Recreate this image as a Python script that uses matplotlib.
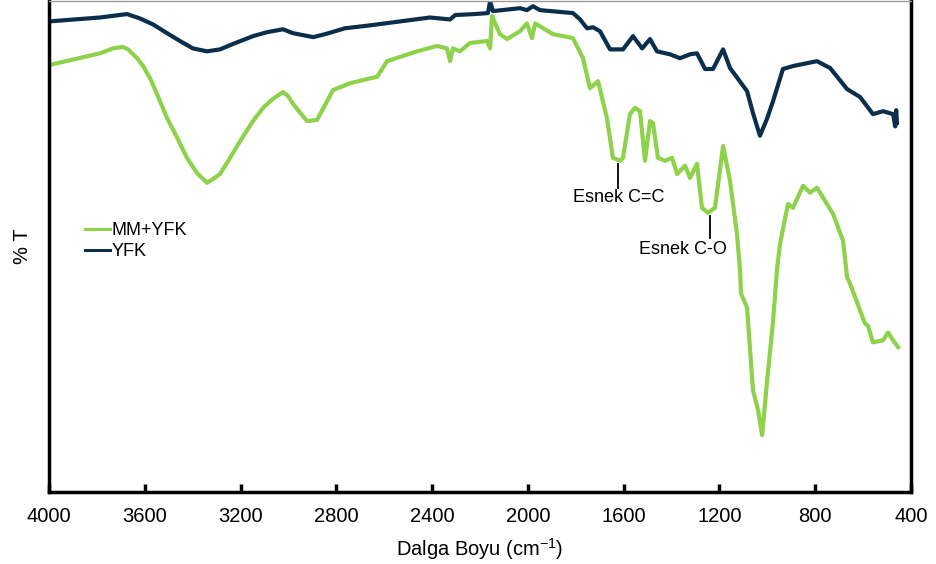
import matplotlib
matplotlib.use('Agg')
import matplotlib.pyplot as plt

plt.rcParams['font.family'] = ['Liberation Sans', 'DejaVu Sans']
plt.rcParams['mathtext.fontset'] = 'custom'
plt.rcParams['mathtext.rm'] = 'Liberation Sans'

# YFK spectrum (wavenumber, %T)
yfk_wn = [4000, 3787, 3674, 3620, 3566, 3507, 3453, 3399, 3340, 3286, 3232, 3148,
          3090, 3023, 2981, 2897, 2847, 2764, 2659, 2534, 2409, 2325, 2304, 2221,
          2167, 2158, 2146, 2033, 2004, 1979, 1950, 1812, 1782, 1753, 1728, 1699,
          1657, 1603, 1561, 1523, 1490, 1461, 1407, 1365, 1323, 1294, 1260, 1227,
          1185, 1156, 1085, 1060, 1031, 1002, 976, 935, 893, 793, 738, 667, 613,
          559, 517, 475, 466, 462, 459]
yfk_t = [95.9, 96.7, 97.4, 96.5, 95.3, 93.5, 91.9, 90.4, 89.8, 90.2, 91.3, 92.9,
         93.7, 94.3, 93.5, 92.7, 93.3, 94.5, 95.1, 95.9, 96.7, 96.3, 97.2, 97.4,
         97.6, 100.0, 98.0, 98.6, 98.2, 99.0, 98.2, 97.6, 96.3, 94.5, 94.7, 93.9,
         90.2, 90.2, 92.9, 90.4, 92.3, 89.8, 89.2, 88.4, 89.2, 89.4, 86.2, 86.2,
         90.2, 86.4, 81.7, 77.2, 72.6, 76.0, 79.7, 86.2, 86.8, 87.8, 86.4, 82.1,
         80.5, 77.0, 77.6, 77.0, 74.5, 77.8, 75.2]

# MM+YFK spectrum (wavenumber, %T)
mm_wn = [4000, 3787, 3733, 3691, 3670, 3632, 3607, 3578, 3549, 3507, 3465, 3424,
         3382, 3340, 3315, 3286, 3244, 3202, 3148, 3106, 3065, 3023, 3002, 2981,
         2923, 2881, 2814, 2743, 2659, 2630, 2588, 2463, 2380, 2338, 2325, 2313,
         2284, 2242, 2171, 2158, 2150, 2117, 2087, 2033, 2004, 1983, 1970, 1895,
         1812, 1770, 1741, 1707, 1670, 1645, 1615, 1603, 1574, 1553, 1532, 1511,
         1490, 1478, 1457, 1427, 1398, 1377, 1344, 1323, 1294, 1273, 1248, 1219,
         1185, 1156, 1127, 1114, 1110, 1085, 1060, 1039, 1022, 1002, 976, 959,
         947, 914, 893, 851, 822, 793, 726, 684, 667, 655, 613, 592, 580, 559,
         517, 496, 475, 454]
mm_t = [87.0, 89.4, 90.4, 90.7, 90.2, 88.4, 86.8, 84.3, 81.1, 76.2, 72.2, 68.1,
        65.0, 63.0, 63.8, 64.8, 68.1, 71.5, 75.6, 78.3, 80.1, 81.5, 80.7, 79.1,
        75.6, 75.8, 81.9, 83.3, 84.3, 84.6, 87.8, 89.8, 90.9, 90.4, 87.8, 90.4,
        89.8, 91.5, 91.9, 90.4, 97.0, 93.3, 92.3, 93.9, 95.5, 92.5, 95.5, 93.3,
        92.5, 88.4, 82.3, 83.7, 76.2, 68.1, 67.5, 68.1, 77.0, 78.3, 77.6, 67.5,
        75.6, 75.2, 68.1, 67.5, 68.1, 64.8, 66.5, 64.0, 66.9, 57.9, 56.9, 57.9,
        70.5, 63.4, 52.6, 45.1, 40.4, 37.6, 20.7, 16.7, 11.6, 22.2, 35.0, 45.7,
        50.6, 58.7, 57.9, 62.4, 61.0, 62.0, 56.7, 51.2, 43.7, 42.5, 37.0, 34.3,
        33.9, 30.5, 30.9, 32.5, 30.9, 29.5]

green = '#8ED14B'
navy = '#0B2E4A'

fig = plt.figure(figsize=(9.37, 5.64), dpi=100)
ax = fig.add_axes([0.0523, 0.1277, 0.92, 0.87])

ax.plot(mm_wn, mm_t, color=green, lw=3, label='MM+YFK', solid_joinstyle='round')
ax.plot(yfk_wn, yfk_t, color=navy, lw=3, label='YFK', solid_joinstyle='round')

# band labels
ax.plot([1624, 1624], [66.9, 62.0], color='black', lw=1.3)
ax.text(1620, 60.0, 'Esnek C=C', ha='center', va='center', fontsize=13)
ax.plot([1240, 1240], [56.3, 51.8], color='black', lw=1.3)
ax.text(1352, 49.4, 'Esnek C-O', ha='center', va='center', fontsize=13)

ax.set_xlim(4000, 400)
ax.set_ylim(0, 100)
ax.set_xticks(range(4000, 399, -400))
ax.set_yticks([])
ax.tick_params(axis='x', direction='in', length=6, width=2.5, labelsize=14.5, pad=11)

for s in ['left', 'bottom', 'right']:
    ax.spines[s].set_linewidth(2.5)
    ax.spines[s].set_color('black')
ax.spines['top'].set_linewidth(1)
ax.spines['top'].set_color('#9a9a9a')

ax.set_xlabel(r'Dalga Boyu (cm$^{\mathregular{-1}}$)', fontsize=14.5, labelpad=7)
ax.set_ylabel('% T', fontsize=14.5, labelpad=12)

leg = ax.legend(loc='upper left', bbox_to_anchor=(0.042, 0.55), frameon=False,
                fontsize=13, handlelength=1.35, handletextpad=0.1,
                labelspacing=0.22, borderpad=0, borderaxespad=0)
for h in leg.get_lines():
    h.set_linewidth(2.2)

fig.savefig('out.png', dpi=100)
